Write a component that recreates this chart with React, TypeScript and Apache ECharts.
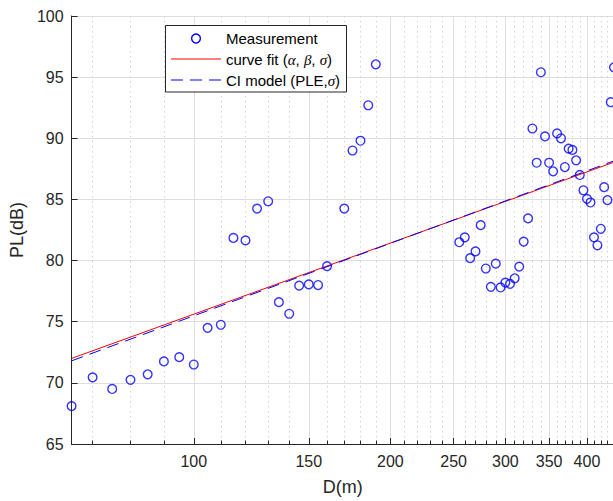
import React, { useEffect, useRef } from "react";
import * as echarts from "echarts";

// Measurement data: distance (m) and path loss (dB)
const measDistance = [
  65, 70, 75, 80, 85, 90, 95, 100, 105, 110, 115, 120, 125, 130, 135, 140, 145, 150, 155, 160,
  170, 175, 180, 185, 190,
  255, 260, 265, 270, 275, 280, 285, 290, 295, 300, 305, 310, 315, 320, 325,
  330, 335, 340, 345, 350, 355, 360, 365, 370, 375, 380, 385, 390, 395, 400, 405, 410, 415,
  420, 425, 430, 435, 440,
];
const measPL = [
  68.1, 70.45, 69.5, 70.25, 70.7, 71.75, 72.1, 71.5, 74.5, 74.75, 81.85, 81.65, 84.25, 84.85,
  76.6, 75.65, 77.95, 78.05, 78.0, 79.55,
  84.25, 89.0, 89.8, 92.7, 96.05,
  81.5, 81.9, 80.2, 80.75, 82.9, 79.35, 77.85, 79.75, 77.8, 78.2, 78.1, 78.55, 79.5, 81.55, 83.45,
  90.8, 88.0, 95.4, 90.15, 88.0, 87.3, 90.4, 90.0, 87.65, 89.15, 89.05, 88.2, 87.0, 85.75, 85.05,
  84.75, 81.9, 81.25, 82.6, 86.0, 84.95, 92.95, 95.8,
];

// Fitted lines (endpoints)
const fitDistance = [65, 440];
const fitPL = [72.0, 88.05];
const ciDistance = [65, 440];
const ciPL = [71.8, 88.15];

// Axis ticks
const xMajorTicks = [100, 150, 200, 250, 300, 350, 400];
const xMinorTicks = [
  70, 80, 90, 110, 120, 130, 140, 160, 170, 180, 190, 210, 220, 230, 240, 260, 270, 280, 290,
  310, 320, 330, 340, 360, 370, 380, 390, 410, 420, 430,
];
const xMin = 65;
const xMax = 440;
const yMin = 65;
const yMax = 100;
const yStep = 5;

const seriesNames = ["Measurement", "curve fit (α, β, σ)", "CI model (PLE,σ)"];

const FONT = '"Liberation Sans", Arial, Helvetica, sans-serif';
const SERIF = '"Liberation Serif", "DejaVu Serif", serif';
const INK = "#262626";
const RED = "#ff0000";
const BLUE = "#0000ff";
const DASH = [12, 7];

export default function App() {
  const ref = useRef<HTMLDivElement>(null);

  useEffect(() => {
    if (!ref.current) return;
    const chart = echarts.init(ref.current, undefined, { renderer: "svg" });
    const lg = (v: number) => Math.log10(v);
    const greek = (s: string) => s.replace(/([αβσ])/g, "{g|$1}");

    // legend box drawn with graphic elements (on top of the grid)
    const LX = 165.5;
    const LY = 25.5;
    const rows = [38.5, 59.5, 80.5];
    const textX = 226;
    const richStyle = {
      g: { fontFamily: SERIF, fontStyle: "italic", fontSize: 15, fill: "#000000" },
    };
    const Z = 100;
    const legendGraphic = [
      {
        type: "rect",
        z: Z,
        shape: { x: LX, y: LY, width: 181, height: 66.5 },
        style: { fill: "#ffffff", stroke: INK, lineWidth: 1 },
      },
      {
        type: "circle",
        z: Z + 1,
        shape: { cx: 196, cy: rows[0], r: 4.4 },
        style: { fill: "none", stroke: BLUE, lineWidth: 1.4 },
      },
      {
        type: "line",
        z: Z + 1,
        shape: { x1: 171, y1: rows[1] - 0.5, x2: 221, y2: rows[1] - 0.5 },
        style: { stroke: RED, lineWidth: 1 },
      },
      {
        type: "line",
        z: Z + 1,
        shape: { x1: 171, y1: rows[2] - 0.5, x2: 221, y2: rows[2] - 0.5 },
        style: { stroke: BLUE, lineWidth: 1, lineDash: DASH },
      },
      ...seriesNames.map((name, i) => ({
        type: "text",
        z: Z + 1,
        x: textX,
        y: rows[i],
        style: {
          text: greek(name),
          fontFamily: FONT,
          fontSize: 15,
          fill: "#000000",
          verticalAlign: "middle",
          align: "left",
          rich: richStyle,
        },
      })),
    ];

    const option: any = {
      animation: false,
      backgroundColor: "#ffffff",
      grid: { left: 68.5, right: 0, top: 16, bottom: 54, containLabel: false },
      graphic: legendGraphic,
      xAxis: [
        {
          type: "value",
          min: lg(xMin),
          max: lg(xMax),
          position: "bottom",
          name: "D(m)",
          nameLocation: "middle",
          nameGap: 34,
          nameTextStyle: { fontSize: 18, color: INK, fontFamily: FONT },
          axisLine: { show: true, onZero: false, lineStyle: { color: INK, width: 1 } },
          axisTick: {
            show: true,
            inside: true,
            length: 6,
            customValues: xMajorTicks.map(lg),
            lineStyle: { color: INK, width: 1 },
          },
          axisLabel: {
            customValues: xMajorTicks.map(lg),
            formatter: (v: number) => String(Math.round(Math.pow(10, v))),
            fontSize: 16,
            color: INK,
            margin: 9,
            fontFamily: FONT,
          },
          splitLine: { show: true, lineStyle: { color: "#dedede", width: 1 } },
        },
        {
          type: "value",
          min: lg(xMin),
          max: lg(xMax),
          position: "bottom",
          axisLine: { show: false },
          axisLabel: { show: false },
          axisTick: {
            show: true,
            inside: true,
            length: 3.5,
            customValues: xMinorTicks.map(lg),
            lineStyle: { color: INK, width: 1 },
          },
          splitLine: {
            show: true,
            lineStyle: { color: "#d2d2d2", width: 1, type: [1.5, 3.5] },
          },
        },
      ],
      yAxis: {
        type: "value",
        min: yMin,
        max: yMax,
        interval: yStep,
        name: "PL(dB)",
        nameLocation: "middle",
        nameGap: 42,
        nameRotate: 90,
        nameTextStyle: { fontSize: 18, color: INK, fontFamily: FONT },
        axisLine: { show: true, onZero: false, lineStyle: { color: INK, width: 1 } },
        axisTick: { show: true, inside: true, length: 6, lineStyle: { color: INK, width: 1 } },
        axisLabel: { fontSize: 16, color: INK, margin: 8, fontFamily: FONT },
        splitLine: { show: true, lineStyle: { color: "#dedede", width: 1 } },
      },
      series: [
        {
          name: seriesNames[0],
          type: "scatter",
          xAxisIndex: 0,
          symbol: "circle",
          symbolSize: 8.7,
          itemStyle: { color: "rgba(0,0,0,0)", borderColor: BLUE, borderWidth: 1.4 },
          emphasis: { disabled: true },
          data: measDistance.map((d, i) => [lg(d), measPL[i]]),
          z: 3,
        },
        {
          name: seriesNames[1],
          type: "line",
          xAxisIndex: 0,
          symbol: "none",
          showSymbol: false,
          lineStyle: { color: RED, width: 1 },
          itemStyle: { color: RED },
          emphasis: { disabled: true },
          data: fitDistance.map((d, i) => [lg(d), fitPL[i]]),
          z: 4,
        },
        {
          name: seriesNames[2],
          type: "line",
          xAxisIndex: 0,
          symbol: "none",
          showSymbol: false,
          lineStyle: { color: BLUE, width: 1, type: DASH },
          itemStyle: { color: BLUE },
          emphasis: { disabled: true },
          data: ciDistance.map((d, i) => [lg(d), ciPL[i]]),
          z: 5,
        },
      ],
    };

    chart.setOption(option);
    return () => chart.dispose();
  }, []);

  return (
    <div
      style={{
        position: "fixed",
        left: 0,
        top: 0,
        width: 613,
        height: 501,
        overflow: "hidden",
        background: "#ffffff",
      }}
    >
      <div ref={ref} style={{ width: 614, height: 501 }} />
    </div>
  );
}
